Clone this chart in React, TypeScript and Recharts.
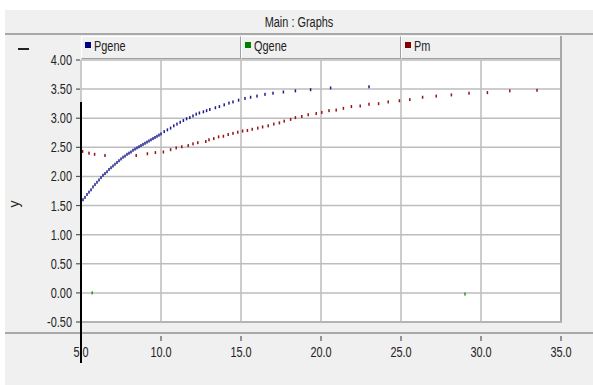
import { CartesianGrid, Scatter, ScatterChart, XAxis, YAxis } from 'recharts';

// time axis ticks and value axis ticks
const xTicks = [5, 10, 15, 20, 25, 30, 35];
const yTicks = [-0.5, 0, 0.5, 1, 1.5, 2, 2.5, 3, 3.5, 4];

// Pgene samples (time, value)
const pgeneTime = [
  5.0, 5.125, 5.25, 5.375, 5.5, 5.625, 5.75, 5.875, 6.0, 6.125, 6.25, 6.375, 6.5, 6.625, 6.75, 6.875,
  7.0, 7.125, 7.25, 7.375, 7.5, 7.625, 7.75, 7.875, 8.0, 8.125, 8.25, 8.375, 8.5, 8.625, 8.75, 8.875,
  9.0, 9.125, 9.25, 9.375, 9.5, 9.625, 9.75, 9.875, 10.0, 10.2, 10.4, 10.6, 10.8, 11.0, 11.2, 11.4,
  11.6, 11.8, 12.0, 12.2, 12.4, 12.65, 12.85, 13.05, 13.4, 13.65, 13.95, 14.25, 14.5, 14.85, 15.25,
  15.6, 16.0, 16.5, 17.0, 17.65, 18.4, 19.35, 20.6, 23.0,
];
const pgeneValue = [
  1.55, 1.6, 1.64, 1.69, 1.73, 1.77, 1.82, 1.86, 1.9, 1.94, 1.98, 2.02, 2.05, 2.08, 2.12, 2.15,
  2.18, 2.21, 2.24, 2.27, 2.3, 2.33, 2.35, 2.38, 2.4, 2.42, 2.45, 2.47, 2.49, 2.51, 2.53, 2.55,
  2.57, 2.59, 2.61, 2.63, 2.65, 2.67, 2.69, 2.71, 2.73, 2.77, 2.8, 2.83, 2.87, 2.9, 2.93, 2.96,
  2.99, 3.01, 3.04, 3.07, 3.09, 3.11, 3.13, 3.15, 3.18, 3.2, 3.23, 3.26, 3.28, 3.31, 3.34,
  3.36, 3.38, 3.41, 3.43, 3.45, 3.47, 3.49, 3.52, 3.54,
];

// Qgene samples
const qgeneTime = [5.7, 29.0];
const qgeneValue = [0.0, -0.02];

// Pm samples
const pmTime = [
  5.1, 5.5, 5.85, 6.5, 8.45, 9.15, 9.65, 10.15, 10.6, 10.95, 11.3, 11.7, 12.0, 12.3, 12.8, 13.0, 13.3,
  13.6, 13.9, 14.2, 14.5, 14.8, 15.1, 15.4, 15.7, 16.05, 16.35, 16.7, 17.05, 17.4, 17.7, 18.1, 18.4,
  18.8, 19.2, 19.7, 20.05, 20.5, 20.95, 21.4, 21.9, 22.45, 23.0, 23.6, 24.2, 24.9, 25.55, 26.35,
  27.2, 28.15, 29.25, 30.4, 31.8, 33.5,
];
const pmValue = [
  2.43, 2.4, 2.38, 2.36, 2.36, 2.39, 2.41, 2.42, 2.46, 2.49, 2.51, 2.53, 2.56, 2.58, 2.6, 2.63, 2.65,
  2.68, 2.69, 2.72, 2.74, 2.76, 2.78, 2.79, 2.81, 2.83, 2.85, 2.87, 2.9, 2.92, 2.95, 2.98, 3.01,
  3.03, 3.06, 3.08, 3.1, 3.13, 3.14, 3.17, 3.2, 3.21, 3.24, 3.25, 3.28, 3.3, 3.32, 3.36,
  3.38, 3.4, 3.43, 3.44, 3.47, 3.48,
];

const series = [
  { name: 'Pgene', color: '#1c1c8c', swatch: '#000080', time: pgeneTime, value: pgeneValue },
  { name: 'Qgene', color: '#1e9a1e', swatch: '#008000', time: qgeneTime, value: qgeneValue },
  { name: 'Pm', color: '#961414', swatch: '#800000', time: pmTime, value: pmValue },
];

const FONT = '"Liberation Sans", Arial, sans-serif';
const SQUEEZE = 0.78;
const FS = 14;

function dash(color: string) {
  return (props: any) => (
    <rect x={props.cx - 0.75} y={props.cy - 1.5} width={1.5} height={3} fill={color} />
  );
}

function XTick(props: any) {
  const { x, payload } = props;
  return (
    <g>
      <line x1={x} x2={x} y1={336} y2={341} stroke="#555" strokeWidth={1.2} />
      <text transform={`translate(${x},357) scale(${SQUEEZE},1)`} textAnchor="middle" fontSize={FS} fontFamily={FONT} fill="#222">
        {Number(payload.value).toFixed(1)}
      </text>
    </g>
  );
}

function YTick(props: any) {
  const { y, payload } = props;
  return (
    <g>
      <line x1={76} x2={80} y1={y} y2={y} stroke="#555" strokeWidth={1.2} />
      <text transform={`translate(72,${y + 5}) scale(${SQUEEZE},1)`} textAnchor="end" fontSize={FS} fontFamily={FONT} fill="#222">
        {Number(payload.value).toFixed(2)}
      </text>
    </g>
  );
}

const squeezed = (origin: string) => ({
  transform: `scaleX(${SQUEEZE})`,
  transformOrigin: origin,
  fontFamily: FONT,
  fontSize: FS,
  color: '#222',
  whiteSpace: 'nowrap' as const,
});

export default function App() {
  return (
    <div style={{ position: 'absolute', left: 0, top: 0, width: 593, height: 385, background: '#fff', overflow: 'hidden' }}>
      <div style={{ position: 'absolute', left: 5, top: 10, width: 588, height: 375, background: '#f0f0f0' }} />
      {/* title bar */}
      <div style={{ position: 'absolute', left: 5, top: 13, width: 588, textAlign: 'center' }}>
        <span style={{ ...squeezed('center'), display: 'inline-block' }}>Main : Graphs</span>
      </div>
      <div style={{ position: 'absolute', left: 5, top: 33, width: 588, height: 2, background: '#a8a8a8' }} />
      <div style={{ position: 'absolute', left: 18, top: 48, width: 11, height: 1.5, background: '#222' }} />

      {/* legend row */}
      {series.map((s, i) => (
        <div
          key={s.name}
          style={{
            position: 'absolute',
            left: 81 + 160 * i,
            top: 36,
            width: 158,
            height: 21,
            borderTop: '1px solid #fff',
            borderLeft: '1px solid #fff',
            borderRight: '1px solid #a0a0a0',
            borderBottom: '1px solid #a0a0a0',
            background: '#f0f0f0',
          }}
        >
          <div style={{ position: 'absolute', left: 3, top: 5, width: 6, height: 6, background: s.swatch }} />
          <div style={{ position: 'absolute', left: 12, top: 1, ...squeezed('left') }}>{s.name}</div>
        </div>
      ))}

      <div style={{ position: 'absolute', left: 0, top: 0 }}>
        <ScatterChart width={593} height={385} margin={{ top: 60, right: 32, bottom: 33, left: 40 }}>
          <CartesianGrid stroke="#bdbdbd" strokeWidth={1.5} fill="#fff" fillOpacity={1} />
          <XAxis
            type="number"
            dataKey="x"
            domain={[5, 35]}
            ticks={xTicks}
            height={30}
            axisLine={false}
            tickLine={false}
            tick={<XTick />}
            interval={0}
            allowDataOverflow
          />
          <YAxis
            type="number"
            dataKey="y"
            domain={[-0.5, 4]}
            ticks={yTicks}
            width={41}
            axisLine={false}
            tickLine={false}
            tick={<YTick />}
            interval={0}
            allowDataOverflow
          />
          {series.map((s) => (
            <Scatter
              key={s.name}
              name={s.name}
              data={s.time.map((t, k) => ({ x: t, y: s.value[k] }))}
              shape={dash(s.color)}
              isAnimationActive={false}
            />
          ))}
        </ScatterChart>
      </div>

      {/* frame lines around plot */}
      <div style={{ position: 'absolute', left: 560, top: 36, width: 2, height: 287, background: '#a8a8a8' }} />
      <div style={{ position: 'absolute', left: 81, top: 321, width: 481, height: 2, background: '#b4b4b4' }} />
      <div style={{ position: 'absolute', left: 5, top: 332, width: 588, height: 2, background: '#a8a8a8' }} />
      <div style={{ position: 'absolute', left: 80, top: 102, width: 2, height: 261, background: '#000' }} />

      <div style={{ position: 'absolute', left: 10, top: 196, ...squeezed('center'), transform: 'rotate(-90deg)' }}>y</div>
    </div>
  );
}
